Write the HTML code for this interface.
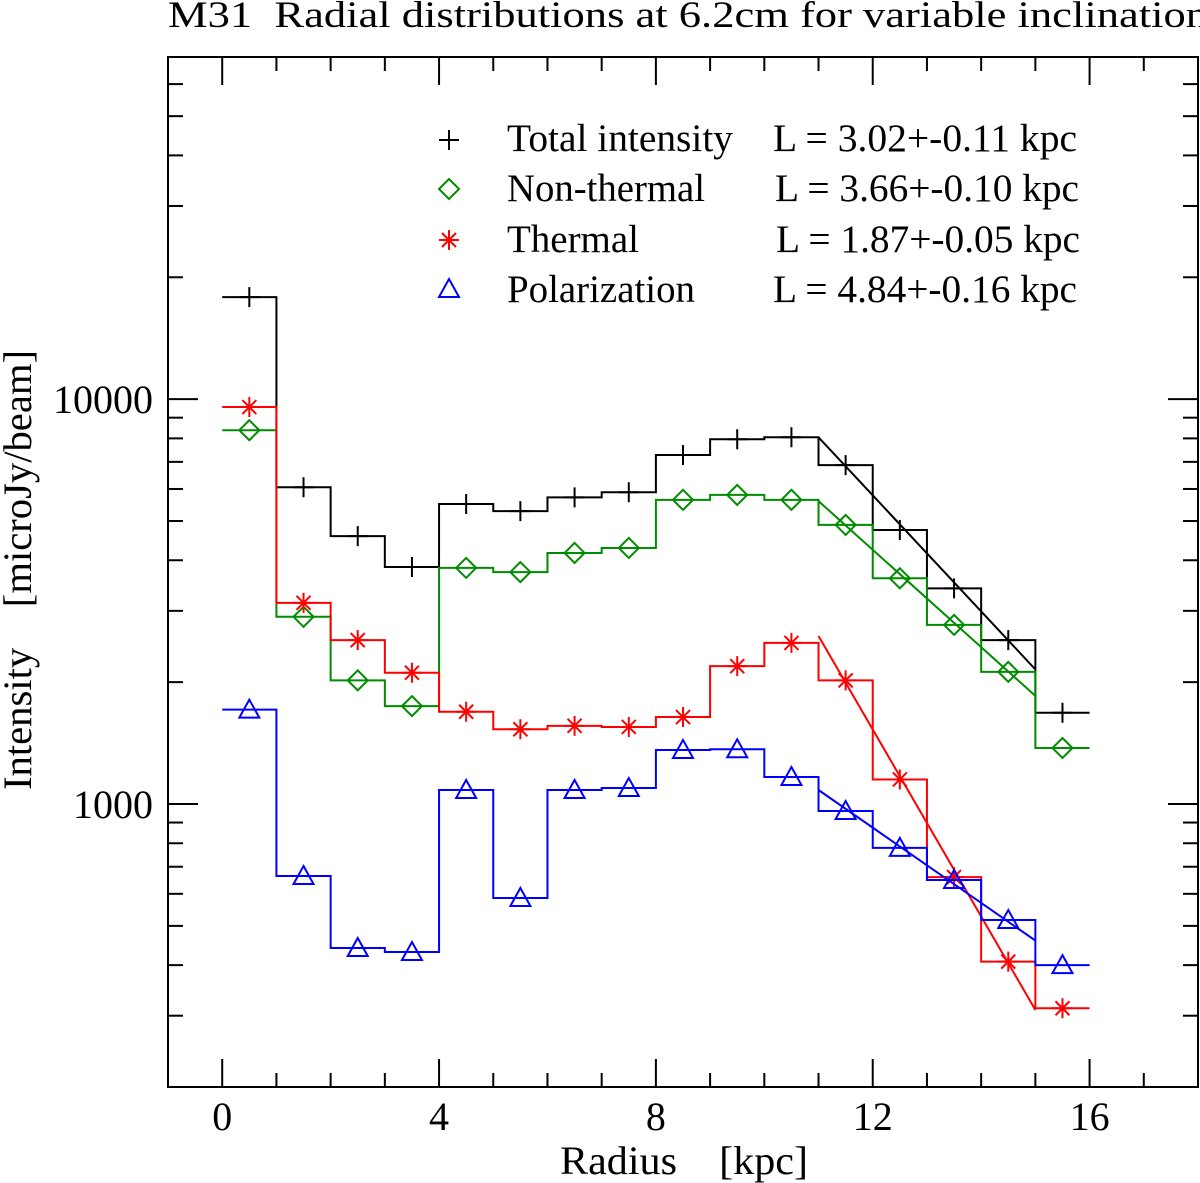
<!DOCTYPE html>
<html><head><meta charset="utf-8"><style>
html,body{margin:0;padding:0;background:#fff;}
svg{display:block;font-family:"Liberation Serif",serif;}
</style></head><body>
<svg id="chart" width="1200" height="1183" viewBox="0 0 1200 1183" xmlns="http://www.w3.org/2000/svg">
<text x="168" y="27" font-size="37" fill="#000" textLength="1040" lengthAdjust="spacingAndGlyphs" xml:space="preserve">M31  Radial distributions at 6.2cm for variable inclination</text>
<g id="grid"></g>
<g id="series"></g>
<rect x="168" y="57" width="1030" height="1030" fill="none" stroke="#000" stroke-width="2"/>
<text x="560" y="1174" font-size="40" textLength="248" lengthAdjust="spacingAndGlyphs" xml:space="preserve">Radius    [kpc]</text>
<text transform="translate(31,790) rotate(-90)" font-size="40" textLength="440" lengthAdjust="spacingAndGlyphs" xml:space="preserve">Intensity    [microJy/beam]</text>
<g font-size="39">
<text x="507" y="151" textLength="226" lengthAdjust="spacingAndGlyphs">Total intensity</text>
<text x="773" y="151" textLength="304" lengthAdjust="spacingAndGlyphs">L = 3.02+-0.11 kpc</text>
<text x="507" y="201" textLength="198" lengthAdjust="spacingAndGlyphs">Non-thermal</text>
<text x="775" y="201" textLength="304" lengthAdjust="spacingAndGlyphs">L = 3.66+-0.10 kpc</text>
<text x="507" y="252" textLength="132" lengthAdjust="spacingAndGlyphs">Thermal</text>
<text x="776" y="252" textLength="304" lengthAdjust="spacingAndGlyphs">L = 1.87+-0.05 kpc</text>
<text x="507" y="302" textLength="188" lengthAdjust="spacingAndGlyphs">Polarization</text>
<text x="773" y="302" textLength="304" lengthAdjust="spacingAndGlyphs">L = 4.84+-0.16 kpc</text>
</g>
</svg>
<script>
const radius = [0.5,1.5,2.5,3.5,4.5,5.5,6.5,7.5,8.5,9.5,10.5,11.5,12.5,13.5,14.5,15.5];
const totalIntensity = [17870,6060,4590,3850,5510,5290,5720,5890,7280,7960,8050,6870,4750,3410,2540,1680];
const nonThermal = [8380,2900,2020,1745,3830,3740,4170,4290,5640,5800,5640,4890,3610,2770,2120,1375];
const thermal = [9560,3140,2540,2110,1690,1530,1560,1550,1640,2190,2500,2020,1150,660,408,313];
const polarization = [1710,664,441,431,1083,586,1083,1095,1360,1365,1166,961,779,649,517,400];
const fitRange = [11,15];
const fitTotal = [8050,2150];
const fitNonThermal = [5600,1850];
const fitThermal = [2600,310];
const fitPolarization = [1083,460];
const xTickLabels = [0,4,8,12,16];
const yTickLabels = [1000,10000];

const NS='http://www.w3.org/2000/svg';
const X0=168,X1=1198,Y0=57,Y1=1087,XMIN=-1,XMAX=18,YMIN=Math.log10(200),YMAX=Math.log10(70000);
function xs(v){return X0+(v-XMIN)/(XMAX-XMIN)*(X1-X0);}
function ys(v){return Y1-(Math.log10(v)-YMIN)/(YMAX-YMIN)*(Y1-Y0);}
function mk(tag,attrs,parent){const e=document.createElementNS(NS,tag);for(const k in attrs)e.setAttribute(k,attrs[k]);parent.appendChild(e);return e;}
const grid=document.getElementById('grid'), ser=document.getElementById('series');

for(let v=0;v<18;v++){
  const len=(v%4===0)?28:14, x=xs(v);
  const t1=mk('line',{x1:x,y1:Y1,x2:x,y2:Y1-len,stroke:'#000','stroke-width':2},grid);
  
  
  const t2=mk('line',{x1:x,y1:Y0,x2:x,y2:Y0+len,stroke:'#000','stroke-width':2},grid);
  
  
}
xTickLabels.forEach(v=>{
  const w=String(v).length*20;
  const t=mk('text',{x:xs(v)-w/2,y:1130,'font-size':40,textLength:w,lengthAdjust:'spacingAndGlyphs'},grid);t.textContent=v;
  
  
});
[100,1000,10000].forEach(d=>{for(let m=1;m<10;m++){const v=d*m;if(v<200||v>70000)continue;
  const y=ys(v),len=(m===1)?30:15;
  const a=mk('line',{x1:X0,y1:y,x2:X0+len,y2:y,stroke:'#000','stroke-width':2},grid);
  
  
  const b=mk('line',{x1:X1,y1:y,x2:X1-len,y2:y,stroke:'#000','stroke-width':2},grid);
  
  
}});
yTickLabels.forEach(v=>{
  const w=String(v).length*20;
  const t=mk('text',{x:153-w,y:ys(v)+14,'font-size':40,textLength:w,lengthAdjust:'spacingAndGlyphs'},grid);t.textContent=v;
  
  
});

function marker(type,cx,cy,color,name){
  let e;
  if(type==='plus') e=mk('path',{d:`M${cx-10} ${cy}H${cx+10}M${cx} ${cy-10}V${cy+10}`,stroke:color,'stroke-width':2,fill:'none'},ser);
  else if(type==='diamond') e=mk('path',{d:`M${cx} ${cy-10}L${cx+10} ${cy}L${cx} ${cy+10}L${cx-10} ${cy}Z`,stroke:color,'stroke-width':2,fill:'none'},ser);
  else if(type==='star') e=mk('path',{d:`M${cx-10} ${cy}H${cx+10}M${cx} ${cy-10}V${cy+10}M${cx-7} ${cy-7}L${cx+7} ${cy+7}M${cx-7} ${cy+7}L${cx+7} ${cy-7}`,stroke:color,'stroke-width':2,fill:'none'},ser);
  else e=mk('path',{d:`M${cx} ${cy-10}L${cx+10} ${cy+8}L${cx-10} ${cy+8}Z`,stroke:color,'stroke-width':2,fill:'none'},ser);
  
  
}
function series(vals,color,type,name,fit){
  let d='';
  vals.forEach((v,i)=>{const x0=xs(radius[i]-0.5),x1=xs(radius[i]+0.5),y=ys(v);d+=(i===0?'M':'L')+x0+' '+y+'L'+x1+' '+y;});
  const p=mk('path',{d:d,stroke:color,'stroke-width':2,fill:'none'},ser);
  
  
  const f=mk('line',{x1:xs(fitRange[0]),y1:ys(fit[0]),x2:xs(fitRange[1]),y2:ys(fit[1]),stroke:color,'stroke-width':2},ser);
  
  
  vals.forEach((v,i)=>marker(type,xs(radius[i]),ys(v),color,name+'-marker'));
}
series(totalIntensity,'#000','plus','total-intensity',fitTotal);
series(nonThermal,'#008c00','diamond','non-thermal',fitNonThermal);
series(thermal,'#ff0000','star','thermal',fitThermal);
series(polarization,'#0000ff','tri','polarization',fitPolarization);
marker('plus',449,140,'#000','legend-total-marker');
marker('diamond',449,189,'#008c00','legend-nonthermal-marker');
marker('star',449,240,'#ff0000','legend-thermal-marker');
marker('tri',449,289,'#0000ff','legend-polarization-marker');
</script>
</body></html>
